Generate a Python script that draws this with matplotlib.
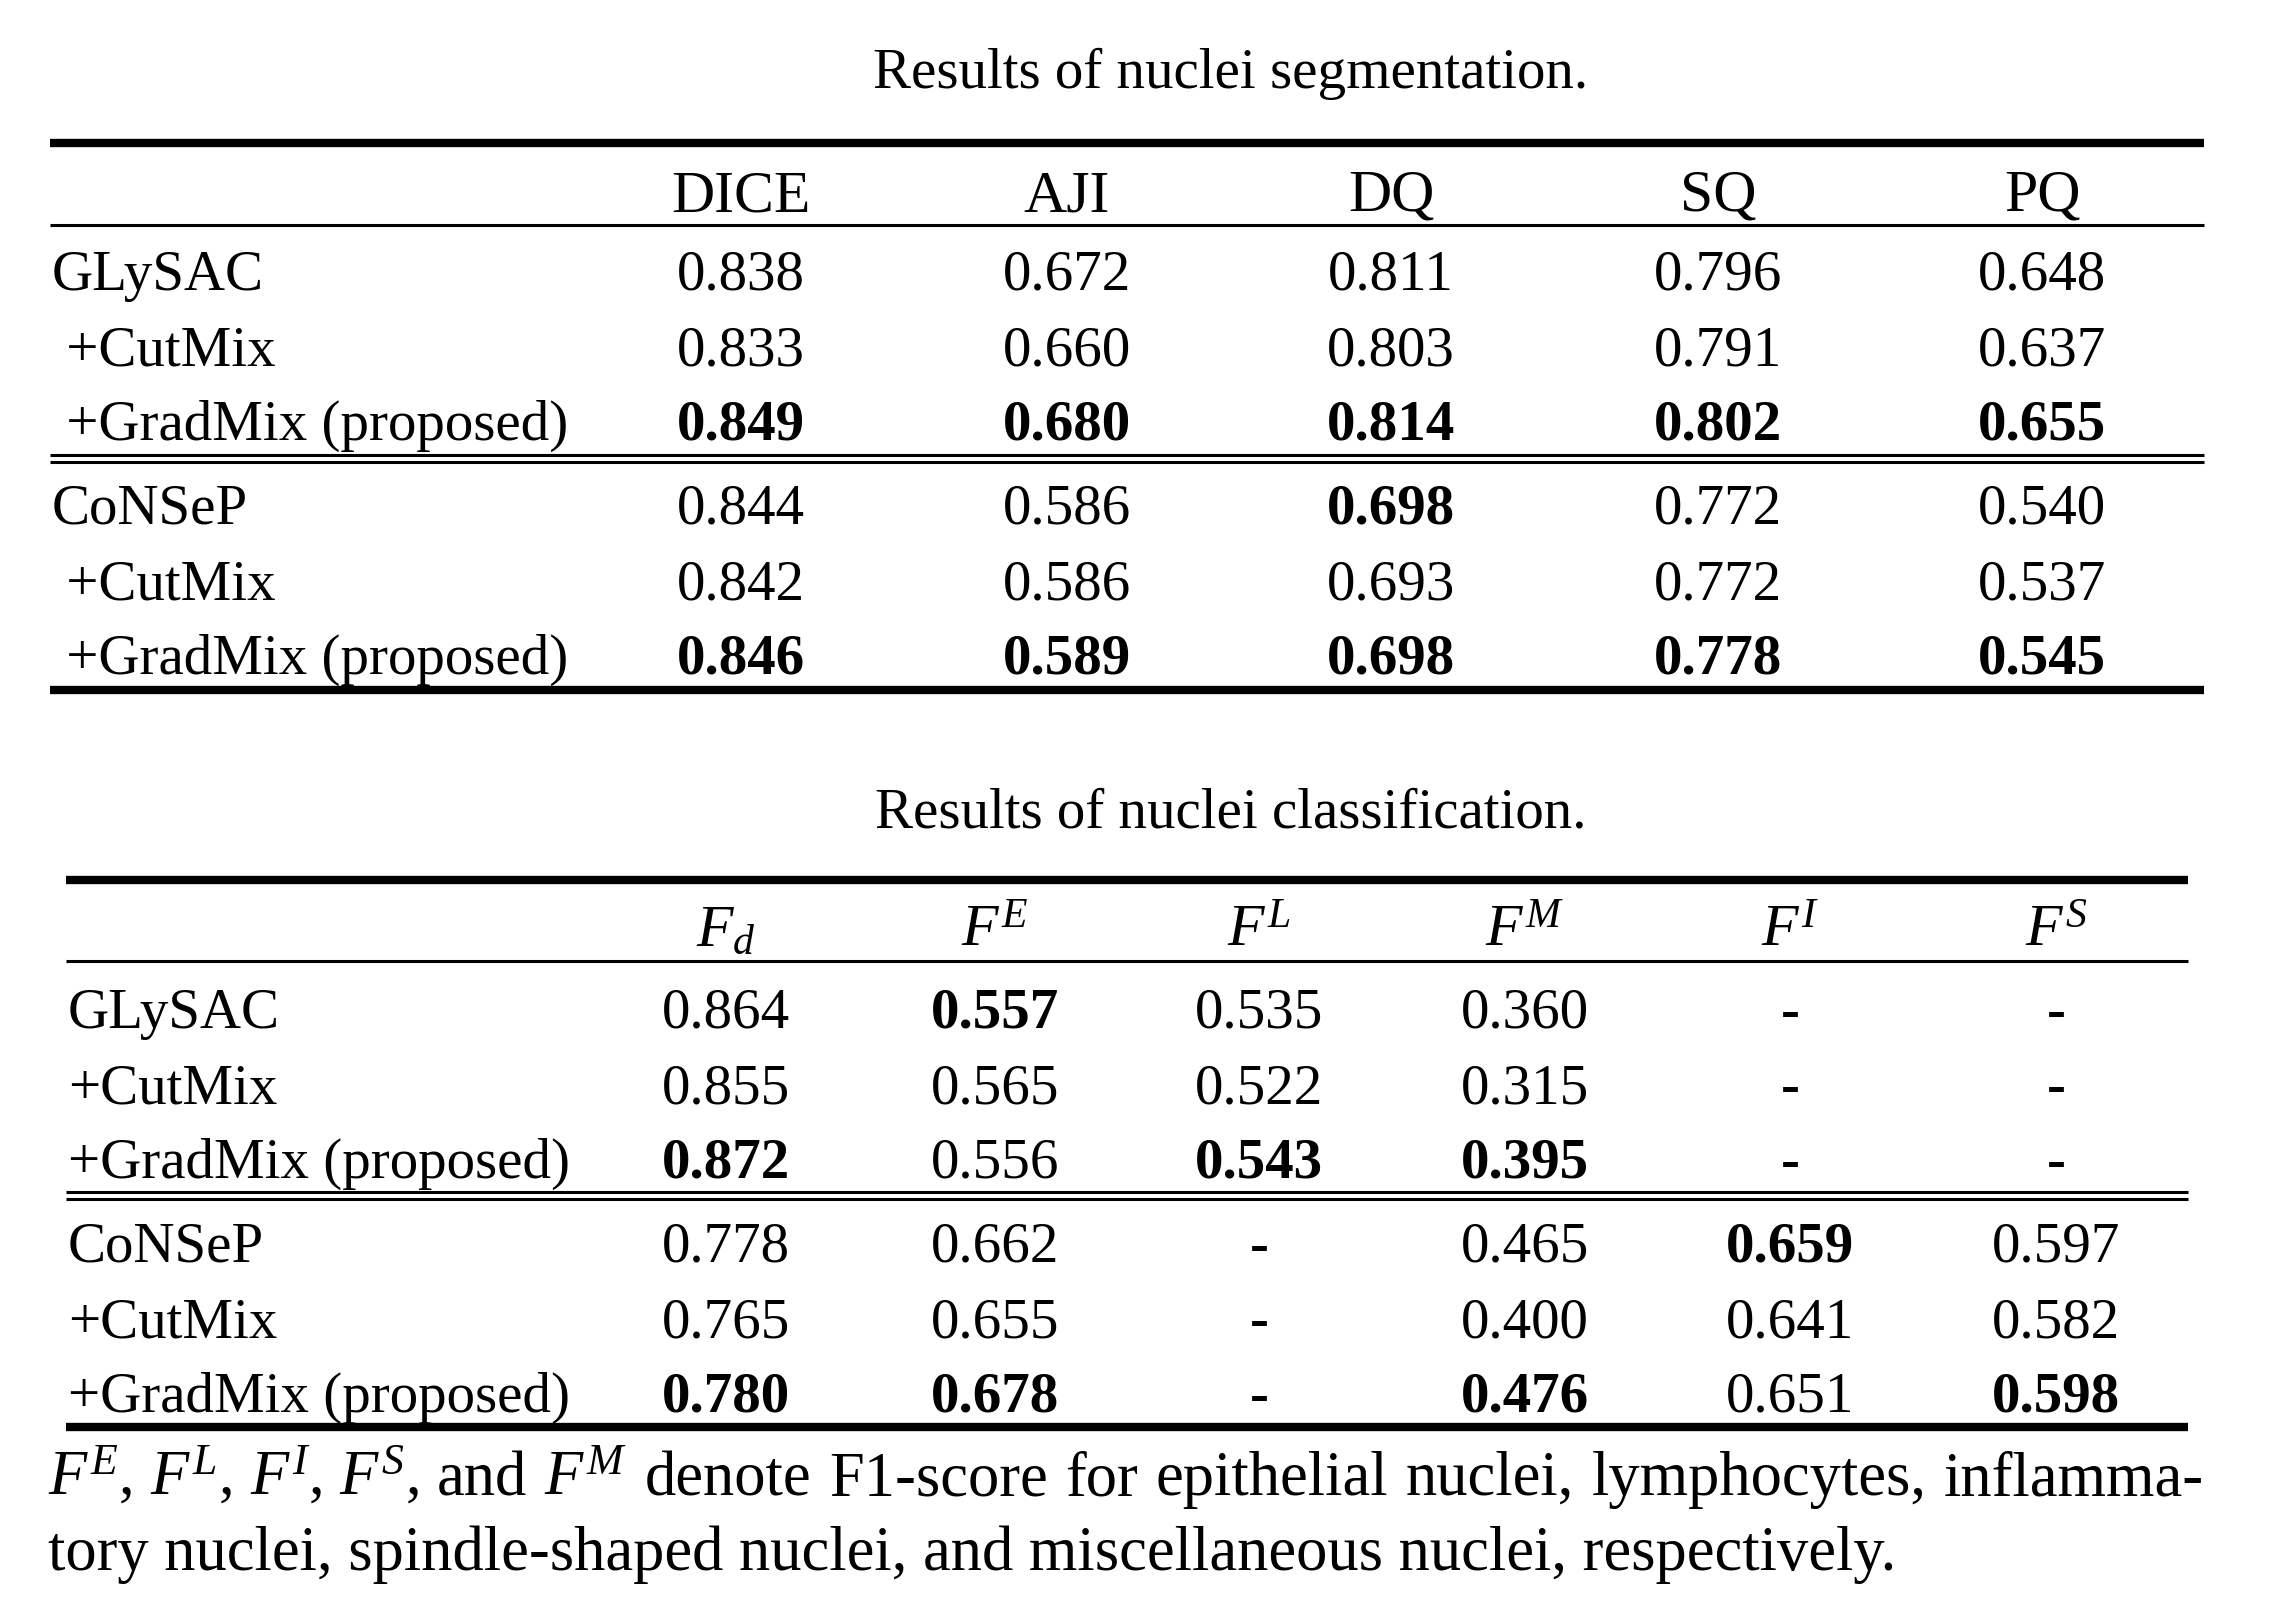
import matplotlib
matplotlib.use("Agg")
import matplotlib.pyplot as plt

plt.rcParams['font.family'] = ['Liberation Serif', 'DejaVu Serif']
plt.rcParams['mathtext.fontset'] = 'custom'
plt.rcParams['mathtext.rm'] = 'Liberation Serif'
plt.rcParams['mathtext.it'] = 'Liberation Serif:italic'
plt.rcParams['mathtext.bf'] = 'Liberation Serif:bold'

# segmentation table
seg_title = "Results of nuclei segmentation."
seg_cols = ["DICE", "AJI", "DQ", "SQ", "PQ"]
seg_rows = ["GLySAC", " +CutMix", " +GradMix (proposed)",
            "CoNSeP", " +CutMix", " +GradMix (proposed)"]
seg_vals = [
    [0.838, 0.672, 0.811, 0.796, 0.648],
    [0.833, 0.660, 0.803, 0.791, 0.637],
    [0.849, 0.680, 0.814, 0.802, 0.655],
    [0.844, 0.586, 0.698, 0.772, 0.540],
    [0.842, 0.586, 0.693, 0.772, 0.537],
    [0.846, 0.589, 0.698, 0.778, 0.545],
]
seg_bold = [
    [0, 0, 0, 0, 0],
    [0, 0, 0, 0, 0],
    [1, 1, 1, 1, 1],
    [0, 0, 1, 0, 0],
    [0, 0, 0, 0, 0],
    [1, 1, 1, 1, 1],
]

# classification table
cls_title = "Results of nuclei classification."
cls_cols = [r"$F_d$", r"$F^E$", r"$F^L$", r"$F^M$", r"$F^I$", r"$F^S$"]
cls_rows = ["GLySAC", "+CutMix", "+GradMix (proposed)",
            "CoNSeP", "+CutMix", "+GradMix (proposed)"]
cls_vals = [
    [0.864, 0.557, 0.535, 0.360, None, None],
    [0.855, 0.565, 0.522, 0.315, None, None],
    [0.872, 0.556, 0.543, 0.395, None, None],
    [0.778, 0.662, None, 0.465, 0.659, 0.597],
    [0.765, 0.655, None, 0.400, 0.641, 0.582],
    [0.780, 0.678, None, 0.476, 0.651, 0.598],
]
cls_bold = [
    [0, 1, 0, 0, 0, 0],
    [0, 0, 0, 0, 0, 0],
    [1, 0, 1, 1, 0, 0],
    [0, 0, 0, 0, 1, 0],
    [0, 0, 0, 0, 0, 0],
    [1, 1, 0, 1, 0, 1],
]

footnote = [
    r"$F^E$, $F^L$, $F^I$, $F^S$, and $F^M$ denote F1-score for epithelial nuclei, lymphocytes, inflamma-",
    "tory nuclei, spindle-shaped nuclei, and miscellaneous nuclei, respectively.",
]

W, H = 2277, 1614
fig = plt.figure(figsize=(W / 100, H / 100), dpi=100)
ax = fig.add_axes([0, 0, 1, 1])
ax.set_xlim(0, W)
ax.set_ylim(H, 0)
ax.axis("off")

FS = 41
FS_NOTE = 45
TITLE_X = 1231


def hline(y, x0, x1, lw):
    ax.plot([x0, x1], [y, y], color="black", lw=lw, solid_capstyle="butt")


def draw_table(title, title_y, cols, col_x, rows, row_x, vals, bold,
               top_y, head_y, head_rule, row_ys, dbl_y, bot_y, x0, x1):
    ax.text(TITLE_X, title_y, title, fontsize=FS, ha="center", va="center")
    hline(top_y, x0, x1, 6)
    hline(head_rule, x0, x1, 2.2)
    hline(dbl_y[0], x0, x1, 2.2)
    hline(dbl_y[1], x0, x1, 2.2)
    hline(bot_y, x0, x1, 6)
    for c, x in zip(cols, col_x):
        ax.text(x, head_y, c, fontsize=FS + 2, ha="center", va="baseline")
    for i, (r, y) in enumerate(zip(rows, row_ys)):
        ax.text(row_x, y, r, fontsize=FS, ha="left", va="baseline")
        for j, x in enumerate(col_x):
            v = vals[i][j]
            s = "-" if v is None else f"{v:.3f}"
            ax.text(x, y, s, fontsize=FS, ha="center", va="baseline",
                    fontweight="bold" if (bold[i][j] or v is None) else "normal")


draw_table(seg_title, 74, seg_cols, [741, 1067, 1391, 1718, 2042],
           seg_rows, 52, seg_vals, seg_bold,
           top_y=143, head_y=211, head_rule=225,
           row_ys=[290, 365, 440, 524, 599, 674],
           dbl_y=(455, 462), bot_y=690, x0=50, x1=2204)

draw_table(cls_title, 813, cls_cols, [726, 995, 1259, 1525, 1790, 2056],
           cls_rows, 68, cls_vals, cls_bold,
           top_y=880, head_y=946, head_rule=961,
           row_ys=[1028, 1103, 1178, 1262, 1337, 1412],
           dbl_y=(1192, 1199), bot_y=1427, x0=66, x1=2188)

# footnote: first line justified to the table width, second left aligned
renderer = fig.canvas.get_renderer()
words = footnote[0].split(" ")
arts = [ax.text(0, 1495, w, fontsize=FS_NOTE, ha="left", va="baseline") for w in words]
widths = []
for a in arts:
    bb = a.get_window_extent(renderer=renderer)
    widths.append(bb.width)
x_left, x_right = 48, 2204
gap = (x_right - x_left - sum(widths)) / (len(words) - 1)
x = x_left
for a, w in zip(arts, widths):
    a.set_x(x)
    x += w + gap
ax.text(x_left, 1570, footnote[1], fontsize=FS_NOTE, ha="left", va="baseline")

fig.savefig("out.png", dpi=100)
